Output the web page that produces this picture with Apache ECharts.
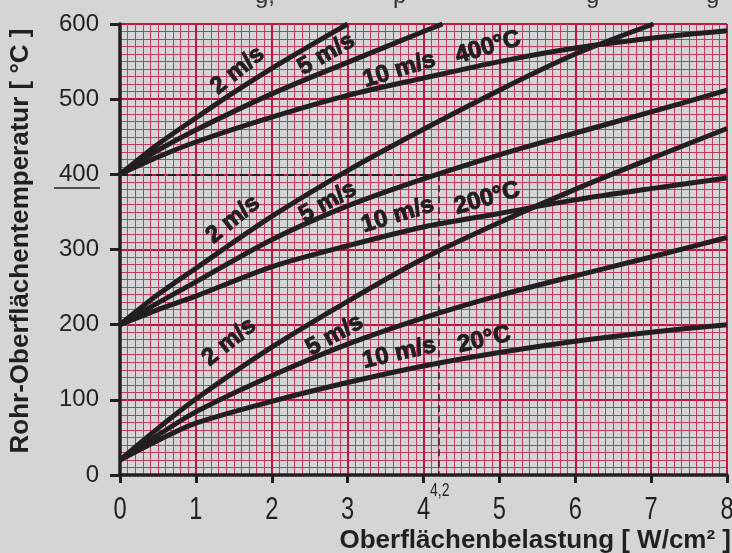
<!DOCTYPE html>
<html>
<head>
<meta charset="utf-8">
<script src="https://cdn.jsdelivr.net/npm/echarts@6/dist/echarts.min.js"></script>
<style>
html, body { margin: 0; padding: 0; background: #d5d5d5; }
#chart { width: 732px; height: 553px; }
</style>
</head>
<body>
<div id="chart"></div>
<script>
// axis ticks
const loadTicks = [0, 1, 2, 3, 4, 5, 6, 7, 8];       // W/cm2
const tempTicks = [0, 100, 200, 300, 400, 500, 600]; // °C

// surface load steps used by the curves that run across the whole chart
const loadFull = [0, 0.5, 1, 2, 3, 4, 5, 6, 7, 8];

// 400°C medium
const load400_2 = [0, 0.5, 1, 1.5, 2, 2.5, 3];
const temp400_2 = [400, 440, 475, 509, 541, 571, 600];
const load400_5 = [0, 0.5, 1, 2, 3, 4, 4.25];
const temp400_5 = [400, 432, 459, 507, 549, 590, 600];
const temp400_10 = [400, 423, 443, 476, 505, 528, 550, 568, 581, 591];

// 200°C medium
const load200_2 = [0, 0.5, 1, 2, 3, 4, 5, 6, 7.03];
const temp200_2 = [200, 240, 275, 344, 405, 460, 512, 560, 600];
const temp200_5 = [200, 229, 257, 313, 358, 394, 426, 455, 483, 512];
const temp200_10 = [200, 220, 238, 277, 305, 330, 348, 366, 381, 395];

// 20°C medium
const temp20_2 = [20, 62, 101, 170, 231, 288, 336, 380, 421, 461];
const temp20_5 = [20, 53, 84, 132, 174, 209, 239, 265, 290, 316];
const temp20_10 = [20, 46, 69, 98, 123, 145, 163, 178, 190, 200];

// reading example
const exampleLoad = 4.2;
const exampleTemp = 400;
const exampleLabel = '4,2';

// curve captions
const captionText = ['2 m/s', '5 m/s', '10 m/s', '400°C',
                     '2 m/s', '5 m/s', '10 m/s', '200°C',
                     '2 m/s', '5 m/s', '10 m/s', '20°C'];

const ink = '#231f20';
const majorRed = '#c0163f';
const minorRed = '#c53a5e';
const sans = '"Liberation Sans", Arial, sans-serif';

function pairs(xs, ys) {
    return ys.map((y, i) => [xs[i], y]);
}

function curve(xs, ys) {
    return {
        type: 'line',
        data: pairs(xs, ys),
        showSymbol: false,
        smooth: 0.3,
        silent: true,
        z: 3,
        lineStyle: { color: ink, width: 5 }
    };
}

// where each caption sits (data coords) and its slant in degrees
const captionSpot = [
    [1.55, 538, 39], [2.72, 560, 30], [3.68, 539, 17], [4.85, 569, 16],
    [1.49, 340, 39], [2.74, 363, 29], [3.66, 346, 17], [4.84, 368, 16],
    [1.44, 177, 39], [2.83, 186, 29], [3.68, 162, 13], [4.80, 180, 13]
];

const chart = echarts.init(document.getElementById('chart'));

const fixedGraphics = [
    { type: 'line', z: 100, shape: { x1: 54, y1: 188, x2: 100, y2: 188 }, style: { stroke: ink, lineWidth: 1.5 } },
    {
        type: 'text', x: 731, y: 541, z: 100,
        style: { text: 'Oberflächenbelastung [ W/cm² ]', font: 'bold 26px ' + sans,
                 fill: ink, textAlign: 'right', textVerticalAlign: 'middle' }
    },
    {
        type: 'text', x: 21, y: 241, rotation: Math.PI / 2, z: 100,
        style: { text: 'Rohr-Oberflächentemperatur [ °C ]', font: 'bold 26px ' + sans,
                 fill: ink, textAlign: 'center', textVerticalAlign: 'middle' }
    },
    // cut-off line of text above the chart, only the descenders show
    { type: 'text', x: 255, y: -16, style: { text: 'g,', font: '24px ' + sans, fill: '#333', textVerticalAlign: 'top' } },
    { type: 'text', x: 393, y: -16, style: { text: 'p', font: '24px ' + sans, fill: '#333', textVerticalAlign: 'top' } },
    { type: 'text', x: 586, y: -16, style: { text: 'g', font: '24px ' + sans, fill: '#333', textVerticalAlign: 'top' } },
    { type: 'text', x: 706, y: -16, style: { text: 'g', font: '24px ' + sans, fill: '#333', textVerticalAlign: 'top' } }
];

const option = {
    backgroundColor: '#d5d5d5',
    animation: false,
    grid: { left: 120, right: 5, top: 24, bottom: 78, outerBoundsMode: 'none' },
    xAxis: {
        type: 'value',
        min: loadTicks[0],
        max: loadTicks[loadTicks.length - 1],
        interval: 1,
        axisLine: { onZero: false, lineStyle: { color: ink, width: 3.5 } },
        axisTick: { length: 8, lineStyle: { color: ink, width: 3 } },
        axisLabel: { show: false },   // drawn below as narrow text
        splitLine: { lineStyle: { color: majorRed, width: 2 } },
        minorTick: { show: false, splitNumber: 10 },
        minorSplitLine: { show: true, lineStyle: { color: minorRed, width: 1 } }
    },
    yAxis: {
        type: 'value',
        min: tempTicks[0],
        max: tempTicks[tempTicks.length - 1],
        interval: 100,
        axisLine: { onZero: false, lineStyle: { color: ink, width: 3.5 } },
        axisTick: { length: 10, lineStyle: { color: ink, width: 3 } },
        axisLabel: { margin: 21, fontSize: 24, color: ink, fontFamily: sans },
        splitLine: { lineStyle: { color: majorRed, width: 2 } },
        minorTick: { show: false, splitNumber: 10 },
        minorSplitLine: { show: true, lineStyle: { color: minorRed, width: 1 } }
    },
    series: [
        curve(load400_2, temp400_2),
        curve(load400_5, temp400_5),
        curve(loadFull, temp400_10),
        curve(load200_2, temp200_2),
        curve(loadFull, temp200_5),
        curve(loadFull, temp200_10),
        curve(loadFull, temp20_2),
        curve(loadFull, temp20_5),
        curve(loadFull, temp20_10),
        {
            // carries the dashed reading lines
            type: 'line',
            data: [],
            silent: true,
            markLine: {
                silent: true,
                symbol: 'none',
                animation: false,
                label: { show: false },
                data: [
                    [{ coord: [0, exampleTemp], lineStyle: { type: [8, 4], width: 2, color: ink } },
                     { coord: [exampleLoad, exampleTemp] }],
                    [{ coord: [exampleLoad, exampleTemp], lineStyle: { type: [7, 4], width: 1.5, color: ink } },
                     { coord: [exampleLoad, 0] }]
                ]
            }
        }
    ],
    graphic: fixedGraphics
};

chart.setOption(option);

const toPx = v => chart.convertToPixel({ xAxisIndex: 0, yAxisIndex: 0 }, v);

// x tick labels in a narrow face, placed through the axis scale
const extraGraphics = loadTicks.map(v => {
    const p = toPx([v, 0]);
    return {
        type: 'text', x: p[0], y: p[1] + 19, scaleX: 0.74, z: 100,
        style: { text: String(v), font: '32px ' + sans, fill: ink, textAlign: 'center', textVerticalAlign: 'top' }
    };
});
const ex = toPx([exampleLoad, 0]);
extraGraphics.push({
    type: 'text', x: ex[0] + 1, y: ex[1] + 6, scaleX: 0.74, z: 100,
    style: { text: exampleLabel, font: '19px ' + sans, fill: ink, textAlign: 'center', textVerticalAlign: 'top' }
});

// curve captions, slightly stroked to get the heavy face of the original
captionSpot.forEach((s, i) => {
    const p = toPx([s[0], s[1]]);
    extraGraphics.push({
        type: 'text', x: p[0], y: p[1], rotation: s[2] * Math.PI / 180, z: 100,
        style: { text: captionText[i], font: 'bold 24px ' + sans, fill: ink,
                 stroke: ink, lineWidth: 1,
                 textAlign: 'center', textVerticalAlign: 'middle' }
    });
});

chart.setOption({ graphic: fixedGraphics.concat(extraGraphics) });
</script>
</body>
</html>
